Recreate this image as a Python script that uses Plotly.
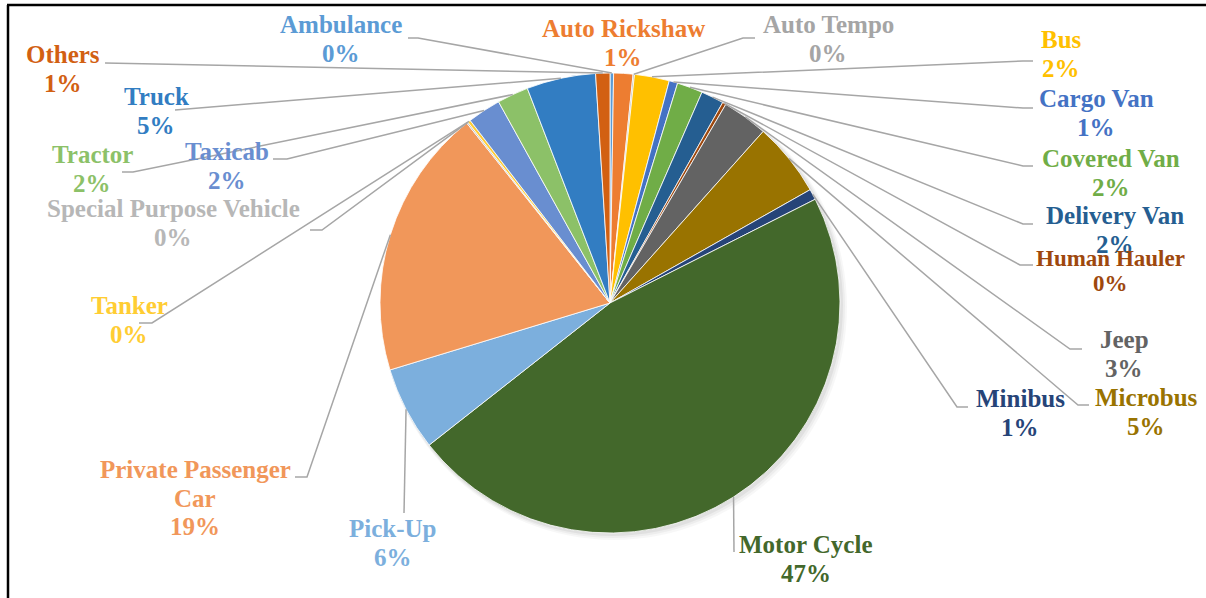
import math
import plotly.graph_objects as go

# ---------------- data ----------------
categories = ["Ambulance", "Auto Rickshaw", "Auto Tempo", "Bus", "Cargo Van",
              "Covered Van", "Delivery Van", "Human Hauler", "Jeep", "Microbus",
              "Minibus", "Motor Cycle", "Pick-Up", "Private Passenger Car",
              "Special Purpose Vehicle", "Tanker", "Taxicab", "Tractor", "Truck", "Others"]
values = [0.25, 1.35, 0.1, 2.45, 0.6, 1.8, 1.6, 0.25, 3.2, 5.2,
          0.75, 46.85, 5.9, 19.0, 0.1, 0.2, 2.35, 2.2, 4.85, 1.0]
colors = ["#5B9BD5", "#ED7D31", "#A5A5A5", "#FFC000", "#4472C4", "#70AD47",
          "#255E91", "#9E480E", "#636363", "#997300", "#264478", "#43682B",
          "#7CAFDD", "#F1975A", "#B7B7B7", "#FFCD33", "#698ED0", "#8CC168",
          "#327DC2", "#D26012"]
# how each category name is broken across lines in its label
name_lines = [["Ambulance"], ["Auto Rickshaw"], ["Auto Tempo"], ["Bus"], ["Cargo Van"],
              ["Covered Van"], ["Delivery Van"], ["Human Hauler"], ["Jeep"], ["Microbus"],
              ["Minibus"], ["Motor Cycle"], ["Pick-Up"], ["Private Passenger", "Car"],
              ["Special Purpose Vehicle"], ["Tanker"], ["Taxicab"], ["Tractor"], ["Truck"], ["Others"]]

# ---------------- layout (pixels) ----------------
W, H = 1206, 598
CX, CY, R = 610, 303, 230
FS = 25
LINE = 28.5
# label centre x, first-line baseline y, font size
label_pos = [(341, 33, FS), (623, 37, FS), (828, 33, FS), (1061, 48, FS), (1096, 107, FS),
             (1111, 167, FS), (1115, 224, FS), (1110, 266, 23), (1124, 348, FS), (1146, 406, FS),
             (1020, 407, FS), (806, 553, FS), (393, 537, FS), (195, 478, FS),
             (173, 217, FS), (129, 314, FS), (227, 160, FS), (92, 163, FS), (156, 105, FS), (63, 63, FS)]
# leader line: anchor near label, elbow point (None = no leader line)
leader = [((408, 38), (418, 38)), None, ((755, 38), (743, 38)), ((1033, 61), (1023, 61)),
          ((1033, 108), (1023, 108)), ((1033, 166), (1023, 166)), ((1033, 224), (1023, 224)),
          ((1033, 265), (1020, 265)), ((1082, 349), (1070, 349)), ((1089, 405), (1078, 405)),
          ((968, 407), (957, 407)), ((734, 552), (734, 552)), ((404, 513), (404, 513)),
          ((295, 477), (307, 477)), ((310, 230), (322, 230)), ((139, 323), (152, 323)),
          ((273, 159), (287, 159)), ((122, 172), (133, 172)), ((175, 110), (175, 110)),
          ((105, 63), (105, 63))]


def px(x):
    return x / W


def py(y):
    return 1 - y / H


fig = go.Figure()
fig.add_trace(go.Pie(
    labels=categories, values=values, sort=False, direction="clockwise", rotation=0,
    marker=dict(colors=colors, line=dict(color="white", width=0.8)),
    textinfo="none", hoverinfo="label+percent", showlegend=False,
    domain=dict(x=[px(CX - R), px(CX + R)], y=[py(CY + R), py(CY - R)]),
))

shapes = []
# soft shadow behind pie
for off, a in [(7, 0.03), (5, 0.04), (3, 0.05)]:
    shapes.append(dict(type="circle", xref="paper", yref="paper", layer="below",
                       x0=px(CX - R + 1), x1=px(CX + R + off), y0=py(CY + R + off), y1=py(CY - R + 1),
                       fillcolor=f"rgba(0,0,0,{a})", line=dict(width=0)))

total = sum(values)
cum = 0.0
annotations = []
for i, cat in enumerate(categories):
    mid = (cum + values[i] / 2) / total * 2 * math.pi
    cum += values[i]
    ex, ey = CX + R * math.sin(mid), CY - R * math.cos(mid)
    if leader[i] is not None:
        (ax, ay), (bx, by) = leader[i]
        path = f"M {px(ex)} {py(ey)} L {px(bx)} {py(by)} L {px(ax)} {py(ay)}"
        shapes.append(dict(type="path", xref="paper", yref="paper", path=path,
                           line=dict(color="#A6A6A6", width=1.5)))
    pct = f"{round(values[i] / total * 100):.0f}%"
    lines = name_lines[i] + [pct]
    lx, base, fs = label_pos[i]
    sp = LINE if fs == FS else 25
    for k, t in enumerate(lines):
        b = base + k * sp
        annotations.append(dict(
            x=px(lx), y=py(b - 0.33 * fs), xref="paper", yref="paper",
            text=f"<b>{t}</b>", showarrow=False, xanchor="center", yanchor="middle",
            font=dict(family="Liberation Serif", size=fs, color=colors[i])))

# frame lines
shapes.append(dict(type="line", xref="paper", yref="paper", x0=px(7), x1=1.0, y0=py(5), y1=py(5),
                   line=dict(color="black", width=2.5)))
shapes.append(dict(type="line", xref="paper", yref="paper", x0=px(8), x1=px(8), y0=py(5), y1=0,
                   line=dict(color="black", width=2.5)))

fig.update_layout(width=W, height=H, margin=dict(l=0, r=0, t=0, b=0),
                  paper_bgcolor="white", plot_bgcolor="white",
                  shapes=shapes, annotations=annotations)
fig.write_html("out.html", config={"displayModeBar": False},
               post_script="document.body.style.margin='0px';document.body.style.overflow='hidden';")
